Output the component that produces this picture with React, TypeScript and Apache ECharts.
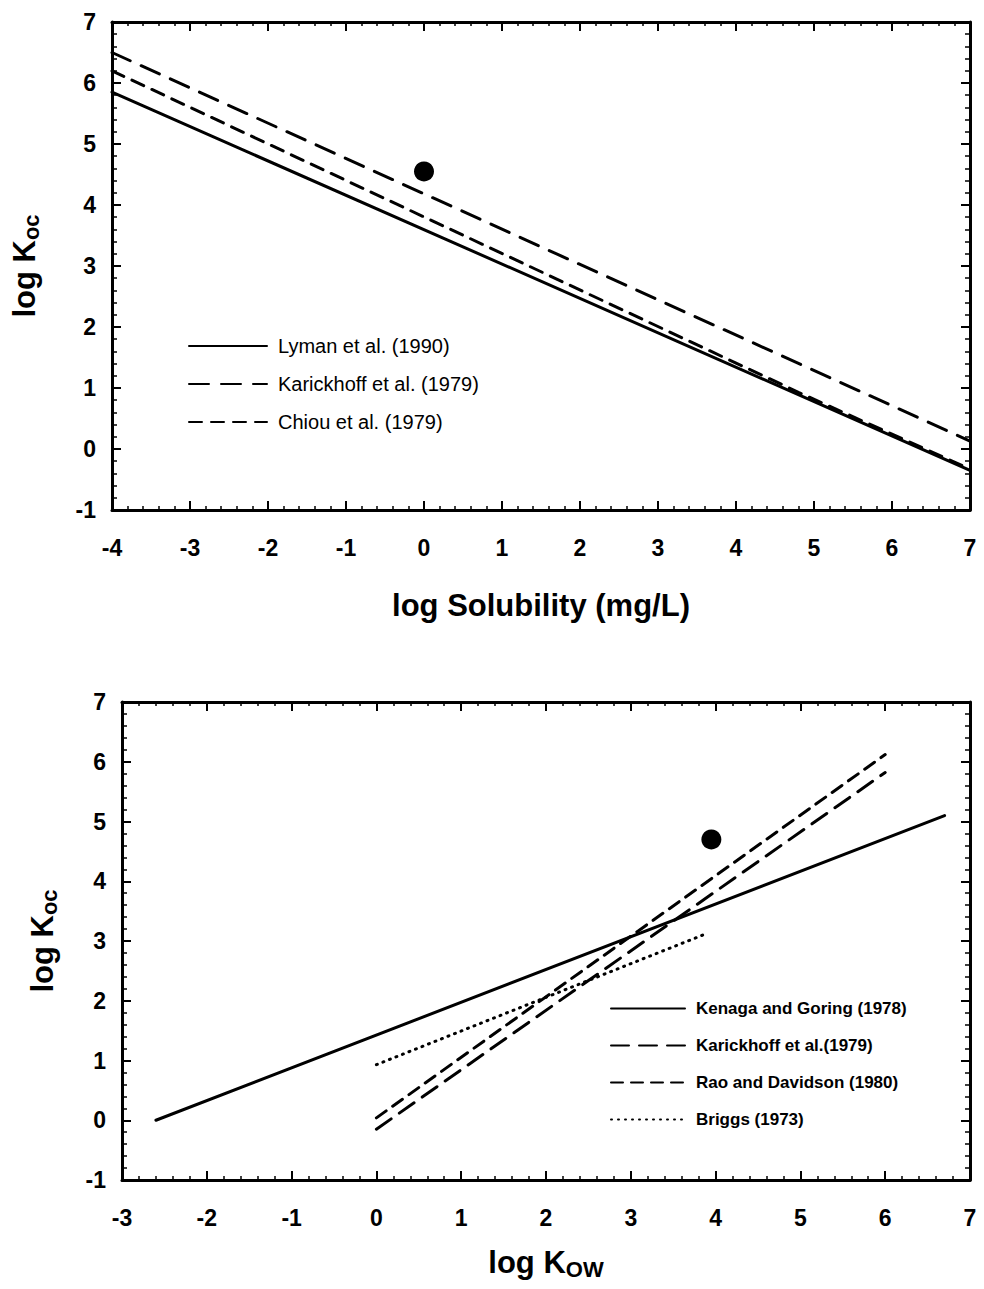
import React, { useEffect, useRef } from "react";
import * as echarts from "echarts";

// Top panel: log Koc vs log Solubility
const solX = [-4, 7];
const lymanY = [5.85, -0.35];
const karickhoffSolY = [6.5, 0.13];
const chiouX = [-4, 4.8, 7];
const chiouY = [6.2, 0.93, -0.33];
const solPoint = [0, 4.55];
const topLegend = ["Lyman et al. (1990)", "Karickhoff et al. (1979)", "Chiou et al. (1979)"];

// Bottom panel: log Koc vs log Kow
const kenagaX = [-2.6, 6.7];
const kenagaY = [0.0, 5.1];
const karickhoffKowX = [0, 6];
const karickhoffKowY = [-0.15, 5.82];
const raoX = [0, 6];
const raoY = [0.04, 6.12];
const briggsX = [0, 3.85];
const briggsY = [0.93, 3.1];
const kowPoint = [3.95, 4.7];
const bottomLegend = ["Kenaga and Goring (1978)", "Karickhoff et al.(1979)", "Rao and Davidson (1980)", "Briggs (1973)"];

const FONT = "Liberation Sans";

function pairs(xs: number[], ys: number[]) {
  return xs.map((x, i) => [x, ys[i]]);
}

function xAxes(min: number, max: number, gridIndex: number, name: any, gap: number) {
  const common = {
    type: "value",
    min,
    max,
    interval: 1,
    gridIndex,
    axisLine: { show: true, onZero: false, lineStyle: { color: "#000", width: 3 } },
    axisTick: { show: true, inside: true, length: 9, lineStyle: { color: "#000", width: 2 } },
    minorTick: { show: true, splitNumber: 5, length: 4, lineStyle: { color: "#000", width: 1.5 } },
    splitLine: { show: false },
  };
  return [
    {
      ...common,
      position: "bottom",
      name,
      nameLocation: "middle",
      nameGap: gap,
      nameTextStyle: {
        fontFamily: FONT,
        fontWeight: "bold",
        fontSize: 31,
        color: "#000",
        rich: {
          sub: { fontFamily: FONT, fontWeight: "bold", fontSize: 22, color: "#000", verticalAlign: "bottom", padding: [14, 0, 0, 0] },
        },
      },
      axisLabel: { fontFamily: FONT, fontWeight: "bold", fontSize: 23, color: "#000", margin: 26 },
    },
    { ...common, position: "top", axisLabel: { show: false } },
  ];
}

function yAxes(gridIndex: number, gap: number) {
  const common = {
    type: "value",
    min: -1,
    max: 7,
    interval: 1,
    gridIndex,
    axisLine: { show: true, onZero: false, lineStyle: { color: "#000", width: 3 } },
    axisTick: { show: true, inside: true, length: 9, lineStyle: { color: "#000", width: 2 } },
    minorTick: { show: true, splitNumber: 5, length: 5, lineStyle: { color: "#000", width: 1.5 } },
    splitLine: { show: false },
  };
  return [
    {
      ...common,
      position: "left",
      name: "log K{sub|oc}",
      nameLocation: "middle",
      nameGap: gap,
      nameRotate: 90,
      nameTextStyle: {
        fontFamily: FONT,
        fontWeight: "bold",
        fontSize: 31,
        color: "#000",
        rich: {
          sub: { fontFamily: FONT, fontWeight: "bold", fontSize: 22, color: "#000", padding: [14, 0, 0, 0] },
        },
      },
      axisLabel: { fontFamily: FONT, fontWeight: "bold", fontSize: 23, color: "#000", margin: 16 },
    },
    { ...common, position: "right", axisLabel: { show: false } },
  ];
}

function lineSeries(name: string, data: number[][], xi: number, yi: number, type: any) {
  return {
    type: "line",
    name,
    data,
    xAxisIndex: xi,
    yAxisIndex: yi,
    showSymbol: false,
    symbol: "none",
    lineStyle: { color: "#000", width: 3, type, cap: "round" },
    itemStyle: { color: "#000" },
    z: 3,
  };
}

export default function App() {
  const ref = useRef<HTMLDivElement>(null);
  useEffect(() => {
    document.body.style.margin = "0";
    if (!ref.current) return;
    const chart = echarts.init(ref.current, undefined, { renderer: "svg" });
    const option: any = {
      animation: false,
      backgroundColor: "#fff",
      grid: [
        { left: 112, top: 22, width: 858, height: 488 },
        { left: 122, top: 702, width: 848, height: 478 },
      ],
      xAxis: [
        ...xAxes(-4, 7, 0, "log Solubility (mg/L)", 80),
        ...xAxes(-3, 7, 1, "log K{sub|OW}", 64),
      ],
      yAxis: [...yAxes(0, 70), ...yAxes(1, 62)],
      legend: [
        {
          data: topLegend,
          orient: "vertical",
          left: 183,
          top: 331,
          itemWidth: 78,
          itemHeight: 14,
          itemGap: 18,
          itemStyle: { opacity: 0 },
          textStyle: { fontFamily: FONT, fontSize: 20, color: "#000", padding: [0, 0, 0, 6] },
        },
        {
          data: bottomLegend,
          orient: "vertical",
          left: 605,
          top: 995,
          itemWidth: 74,
          itemHeight: 14,
          itemGap: 20,
          itemStyle: { opacity: 0 },
          textStyle: { fontFamily: FONT, fontSize: 17, fontWeight: "bold", color: "#000", padding: [0, 0, 0, 6] },
        },
      ],
      series: [
        lineSeries(topLegend[0], pairs(solX, lymanY), 0, 0, "solid"),
        lineSeries(topLegend[1], pairs(solX, karickhoffSolY), 0, 0, [20, 12]),
        lineSeries(topLegend[2], pairs(chiouX, chiouY), 0, 0, [13, 9]),
        {
          type: "scatter",
          name: "topPoint",
          data: [solPoint],
          xAxisIndex: 0,
          yAxisIndex: 0,
          symbolSize: 20,
          itemStyle: { color: "#000", opacity: 1 },
        },
        lineSeries(bottomLegend[0], pairs(kenagaX, kenagaY), 2, 2, "solid"),
        lineSeries(bottomLegend[1], pairs(karickhoffKowX, karickhoffKowY), 2, 2, [18, 10]),
        lineSeries(bottomLegend[2], pairs(raoX, raoY), 2, 2, [12, 8]),
        lineSeries(bottomLegend[3], pairs(briggsX, briggsY), 2, 2, [1, 6]),
        {
          type: "scatter",
          name: "bottomPoint",
          data: [kowPoint],
          xAxisIndex: 2,
          yAxisIndex: 2,
          symbolSize: 20,
          itemStyle: { color: "#000", opacity: 1 },
        },
      ],
    };
    chart.setOption(option);
    return () => chart.dispose();
  }, []);
  return <div ref={ref} style={{ width: 984, height: 1289 }} />;
}
